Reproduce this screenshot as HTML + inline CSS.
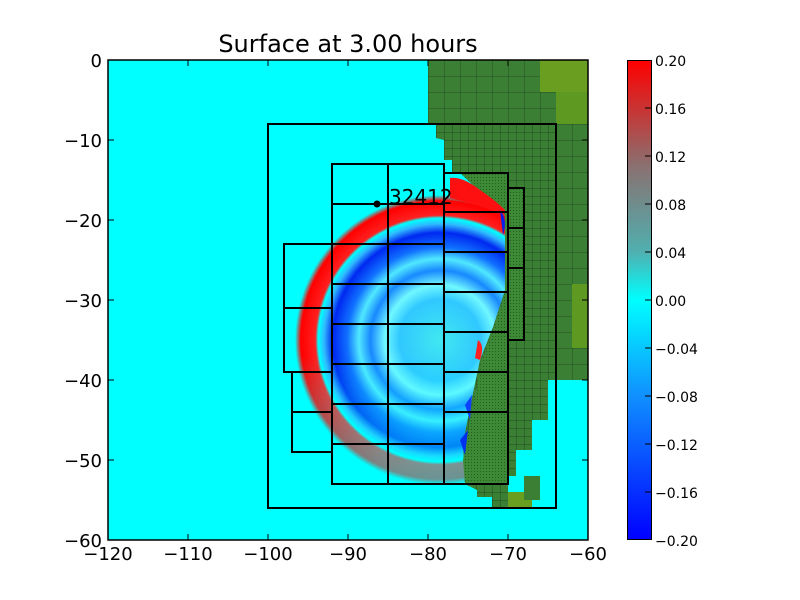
<!DOCTYPE html>
<html><head><style>body{margin:0;background:#fff}svg{display:block}text{font-family:"DejaVu Sans","Liberation Sans",sans-serif}</style></head><body>
<svg width="800" height="600" viewBox="0 0 800 600" xmlns="http://www.w3.org/2000/svg">
<defs>
<radialGradient id="wave" cx="440" cy="340" r="145" gradientUnits="userSpaceOnUse">
<stop offset="0" stop-color="#40e8f0"/>
<stop offset="0.28" stop-color="#30c8ff"/>
<stop offset="0.38" stop-color="#70f8ff"/>
<stop offset="0.48" stop-color="#1888ff"/>
<stop offset="0.56" stop-color="#50e8ff"/>
<stop offset="0.64" stop-color="#1070ff"/>
<stop offset="0.74" stop-color="#0028f0"/>
<stop offset="0.80" stop-color="#30b8ff"/>
<stop offset="0.84" stop-color="#00ffff"/>
<stop offset="0.86" stop-color="#ff2020"/>
<stop offset="0.96" stop-color="#ff0000"/>
<stop offset="1" stop-color="#00ffff"/>
</radialGradient>
<linearGradient id="fade" x1="0" y1="0" x2="0" y2="1">
<stop offset="0" stop-color="#fff"/><stop offset="0.55" stop-color="#fff"/><stop offset="0.85" stop-color="#888"/><stop offset="1" stop-color="#555"/>
</linearGradient>
<mask id="m"><rect x="250" y="180" width="260" height="320" fill="url(#fade)"/></mask>
<linearGradient id="cb" x1="0" y1="0" x2="0" y2="1">
<stop offset="0" stop-color="#ff0000"/><stop offset="0.22" stop-color="#8a7070"/><stop offset="0.4" stop-color="#50b0b0"/><stop offset="0.5" stop-color="#00ffff"/><stop offset="0.7" stop-color="#1090ff"/><stop offset="1" stop-color="#0000ff"/>
</linearGradient>
<pattern id="g16" width="16" height="16" patternUnits="userSpaceOnUse" x="108" y="60"><rect width="16" height="16" fill="#3a7f33"/><path d="M0 0H16M0 0V16" stroke="#254f20" stroke-width="1"/></pattern>
<pattern id="g8" width="8" height="8" patternUnits="userSpaceOnUse" x="108" y="60"><rect width="8" height="8" fill="#3a7f33"/><path d="M0 0H8M0 0V8" stroke="#204a1c" stroke-width="1"/></pattern>
<pattern id="g2" width="3" height="3" patternUnits="userSpaceOnUse"><rect width="3" height="3" fill="#3d8a36"/><rect width="1" height="1" fill="#2a5a24"/></pattern>
<clipPath id="pc"><rect x="108" y="60" width="480" height="480"/></clipPath>
</defs>
<rect x="108" y="60" width="480" height="480" fill="#00ffff"/>
<g clip-path="url(#pc)">
<g mask="url(#m)"><circle cx="440" cy="340" r="145" fill="url(#wave)"/></g>
<!-- coarse land -->
<polygon fill="url(#g16)" points="428,60 588,60 588,380 557,380 557,124 428,124"/>
<rect x="540" y="60" width="48" height="32" fill="#6a9e20"/>
<rect x="556" y="92" width="32" height="32" fill="#5e9a22"/>
<rect x="572" y="284" width="16" height="64" fill="#5e9a22"/>
<!-- fine land -->
<polygon fill="url(#g8)" points="436,124 557,124 557,380 548,380 548,420 532,420 532,450 516,450 516,476 508,476 508,508 492,508 492,497 477,497 477,490 465,484 463,443 473,393 480,360 493,327 505,290 505,210 460,173 452,172 452,160 444,160 444,140 436,138"/>
<polygon fill="url(#g2)" points="460,173 508,173 508,484 465,484 463,460 468,430 475,395 482,360 494,327 505,290 505,215"/>
<rect x="508" y="188" width="16" height="152" fill="url(#g2)"/>
<rect x="508" y="492" width="24" height="16" fill="#6a9e20"/>
<rect x="524" y="476" width="16" height="24" fill="#3a7f33"/>
<!-- wave near coast -->
<path d="M450,178 Q462,176 480,190 Q495,200 505,210 L504,215 Q480,205 450,198 Z" fill="#ff1010"/>
<path d="M500,210 Q508,220 503,235 Z" fill="#0020f0"/>
<path d="M478,340 Q485,345 480,360 L475,358 Z" fill="#ff2020"/>
<path d="M465,405 L472,395 L470,420 Z" fill="#1040ff"/>
<path d="M460,440 L468,430 L465,455 Z" fill="#0030f0"/>
</g>
<g fill="none" stroke="#000" stroke-width="2">
<rect x="268" y="124" width="288" height="384"/>
<path d="M332,164H444V484H332Z M388,164V484 M332,204H444 M332,244H444 M332,284H444 M332,324H444 M332,364H444 M332,404H444 M332,444H444"/>
<path d="M444,173H508V484H444 M444,212H508 M444,252H508 M444,292H508 M444,332H508 M444,372H508 M444,412H508"/>
<path d="M508,188H524V340H508 M508,228H524 M508,268H524"/>
<path d="M332,244H284V372H332 M284,308H332 M332,372H292V452H332 M292,412H332"/>
</g>
<circle cx="377" cy="204" r="3.5" fill="#000"/>
<text x="389" y="204" font-size="20">32412</text>
<rect x="108" y="60" width="480" height="480" fill="none" stroke="#000" stroke-width="1.5"/>
<g stroke="#000" stroke-width="1">
<path d="M188,540v-6M268,540v-6M348,540v-6M428,540v-6M508,540v-6M188,60v6M268,60v6M348,60v6M428,60v6M508,60v6"/>
<path d="M108,140h6M108,220h6M108,300h6M108,380h6M108,460h6M588,140h-6M588,220h-6M588,300h-6M588,380h-6M588,460h-6"/>
</g>
<g font-size="18" text-anchor="middle">
<text x="108" y="560">−120</text><text x="188" y="560">−110</text><text x="268" y="560">−100</text><text x="348" y="560">−90</text><text x="428" y="560">−80</text><text x="508" y="560">−70</text><text x="588" y="560">−60</text>
</g>
<g font-size="18" text-anchor="end">
<text x="102" y="67">0</text><text x="102" y="147">−10</text><text x="102" y="227">−20</text><text x="102" y="307">−30</text><text x="102" y="387">−40</text><text x="102" y="467">−50</text><text x="102" y="547">−60</text>
</g>
<text x="348" y="52" font-size="24" text-anchor="middle">Surface at 3.00 hours</text>
<rect x="627.5" y="60.5" width="24" height="479" fill="url(#cb)" stroke="#000" stroke-width="1"/>
<g stroke="#000"><path d="M651,108h-6M651,156h-6M651,204h-6M651,252h-6M651,300h-6M651,348h-6M651,396h-6M651,444h-6M651,492h-6"/></g>
<g font-size="14">
<text x="655" y="66">0.20</text><text x="655" y="114">0.16</text><text x="655" y="162">0.12</text><text x="655" y="210">0.08</text><text x="655" y="258">0.04</text><text x="655" y="306">0.00</text><text x="655" y="354">−0.04</text><text x="655" y="402">−0.08</text><text x="655" y="450">−0.12</text><text x="655" y="498">−0.16</text><text x="655" y="546">−0.20</text>
</g>
</svg>
</body></html>
